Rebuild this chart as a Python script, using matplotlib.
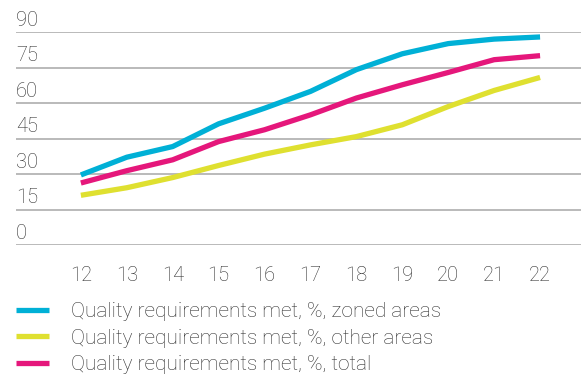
import numpy as np
import matplotlib.pyplot as plt
from matplotlib.lines import Line2D

# Years (20xx) and share of samples meeting quality requirements, %
years = [12, 13, 14, 15, 16, 17, 18, 19, 20, 21, 22]
zoned = [29.6, 37.1, 41.6, 51.2, 57.8, 64.9, 74.1, 80.8, 85.1, 87.0, 87.9]
other = [21.0, 24.2, 28.5, 33.6, 38.4, 42.3, 45.8, 50.8, 58.5, 65.3, 70.8]
total = [26.2, 31.4, 36.0, 43.7, 48.7, 55.0, 62.1, 67.7, 72.9, 78.3, 80.0]

yticks = [0, 15, 30, 45, 60, 75, 90]
labels = ["Quality requirements met, %, zoned areas",
          "Quality requirements met, %, other areas",
          "Quality requirements met, %, total"]
colors = ["#00b0d6", "#dfe030", "#e5177b"]

plt.rcParams['font.family'] = ['Roboto', 'DejaVu Sans']
plt.rcParams['font.weight'] = 'light'
txt = "#2e2e2e"

fig = plt.figure(figsize=(5.81, 3.77), dpi=100)
ax = fig.add_axes([16 / 581, 1 - 245 / 377, 565 / 581, 213 / 377])

for y in yticks:
    ax.axhline(y, color="#b4b4b4", lw=1.3, zorder=1)
    ax.text(0, y + 0.9, str(y), transform=ax.get_yaxis_transform(),
            ha="left", va="bottom", fontsize=14.5, color=txt)

for vals, c in zip([zoned, other, total], colors):
    ax.plot(years, vals, color=c, lw=3.8, solid_capstyle="butt", zorder=3)

ax.set_xlim(12 - 65 / 46, 22 + 41 / 46)
ax.set_ylim(0, 90)
ax.set_yticks([])
ax.set_xticks(years)
ax.set_xticklabels([str(y) for y in years], fontsize=14.5, color=txt)
ax.tick_params(axis="x", length=0, pad=15)
for s in ax.spines.values():
    s.set_visible(False)

handles = [Line2D([], [], color=c, lw=3.8, solid_capstyle="butt") for c in colors]
leg = fig.legend(handles, labels, loc="upper left", bbox_to_anchor=(16 / 581, 1 - 302 / 377),
                 frameon=False, fontsize=15, handlelength=1.6, handletextpad=1.05,
                 labelspacing=0.36, borderaxespad=0, borderpad=0)
for t in leg.get_texts():
    t.set_color(txt)

fig.savefig("out.png", dpi=100)
